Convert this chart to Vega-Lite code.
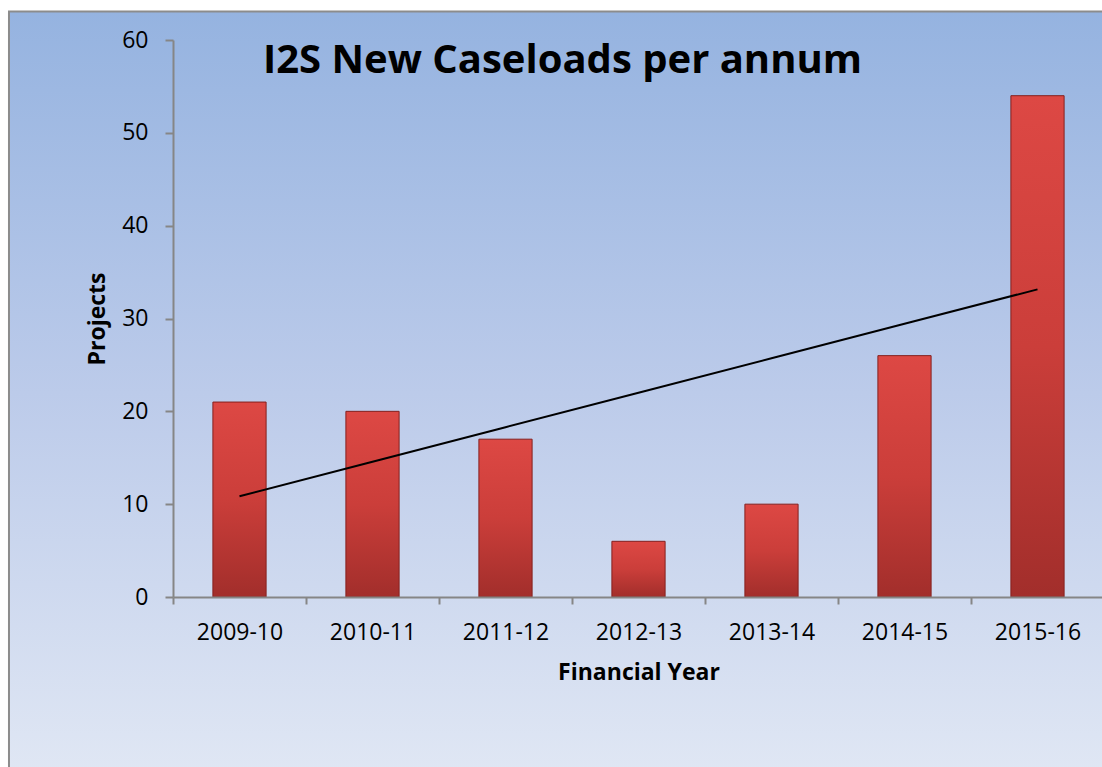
{
  "$schema": "https://vega.github.io/schema/vega-lite/v6.json",
  "autosize": {"type": "none"},
  "width": 931,
  "height": 557,
  "padding": {"left": 173, "top": 40, "right": 0, "bottom": 170},
  "background": "white",
  "title": {
    "text": "I2S New Caseloads per annum",
    "orient": "top",
    "anchor": "start",
    "frame": "group",
    "dx": 90,
    "dy": 102,
    "offset": 0,
    "baseline": "alphabetic",
    "font": "Open Sans",
    "fontSize": 40,
    "fontWeight": "bold",
    "color": "black",
    "zindex": 2
  },
  "config": {
    "view": {"stroke": null},
    "axis": {
      "domainColor": "#868686",
      "domainWidth": 2,
      "tickColor": "#868686",
      "tickWidth": 2,
      "grid": false,
      "labelFont": "Open Sans",
      "labelFontSize": 23,
      "labelColor": "black",
      "titleFont": "Open Sans",
      "titleFontWeight": "bold",
      "titleColor": "black"
    }
  },
  "datasets": {
    "caseloads": [
      {"year": "2009-10", "projects": 21, "trend": 10.86},
      {"year": "2010-11", "projects": 20, "trend": 14.57},
      {"year": "2011-12", "projects": 17, "trend": 18.29},
      {"year": "2012-13", "projects": 6, "trend": 22.0},
      {"year": "2013-14", "projects": 10, "trend": 25.71},
      {"year": "2014-15", "projects": 26, "trend": 29.43},
      {"year": "2015-16", "projects": 54, "trend": 33.14}
    ]
  },
  "layer": [
    {
      "data": {"values": [{"panel": "background"}]},
      "mark": {
        "type": "rect",
        "fill": {
          "gradient": "linear",
          "x1": 0, "y1": 0, "x2": 0, "y2": 1,
          "stops": [
            {"offset": 0, "color": "#95b3e0"},
            {"offset": 0.5, "color": "#bccbea"},
            {"offset": 1, "color": "#e0e7f4"}
          ]
        },
        "stroke": "#8c8c8c",
        "strokeWidth": 2
      },
      "encoding": {
        "x": {"datum": "2009-10", "bandPosition": -3.833, "type": "nominal", "scale": {"domain": ["2009-10","2010-11","2011-12","2012-13","2013-14","2014-15","2015-16"]}},
        "x2": {"datum": "2015-16", "bandPosition": 2},
        "y": {"datum": 63.07, "type": "quantitative", "scale": {"domain": [0, 60]}},
        "y2": {"datum": -19.2}
      }
    },
    {
      "data": {"name": "caseloads"},
      "mark": {
        "type": "bar",
        "fill": {
          "gradient": "linear",
          "x1": 0, "y1": 0, "x2": 0, "y2": 1,
          "stops": [
            {"offset": 0, "color": "#dd4844"},
            {"offset": 0.5, "color": "#cb3e3a"},
            {"offset": 1, "color": "#a22e2b"}
          ]
        },
        "stroke": "#85201e",
        "strokeWidth": 1
      },
      "encoding": {
        "x": {
          "field": "year",
          "type": "nominal",
          "sort": null,
          "scale": {"paddingInner": 0.6, "paddingOuter": 0.3},
          "axis": {
            "zindex": 1,
            "title": "Financial Year",
            "titleFontSize": 23,
            "titleY": 82,
            "titleBaseline": "alphabetic",
            "labelAngle": 0,
            "labelAlign": "center",
            "tickOffset": -66.5,
            "labelOffset": 66.5,
            "tickSize": 7,
            "labelPadding": 28
          }
        },
        "y": {
          "field": "projects",
          "type": "quantitative",
          "scale": {"domain": [0, 60], "nice": false},
          "axis": {
            "zindex": 1,
            "title": "Projects",
            "titleFontSize": 23,
            "titleX": -76,
            "titleBaseline": "middle",
            "values": [0, 10, 20, 30, 40, 50, 60],
            "tickSize": 8,
            "labelPadding": 17
          }
        }
      }
    },
    {
      "data": {"name": "caseloads"},
      "mark": {"type": "line", "color": "black", "strokeWidth": 2},
      "encoding": {
        "x": {"field": "year", "type": "nominal", "sort": null},
        "y": {"field": "trend", "type": "quantitative"}
      }
    }
  ]
}
